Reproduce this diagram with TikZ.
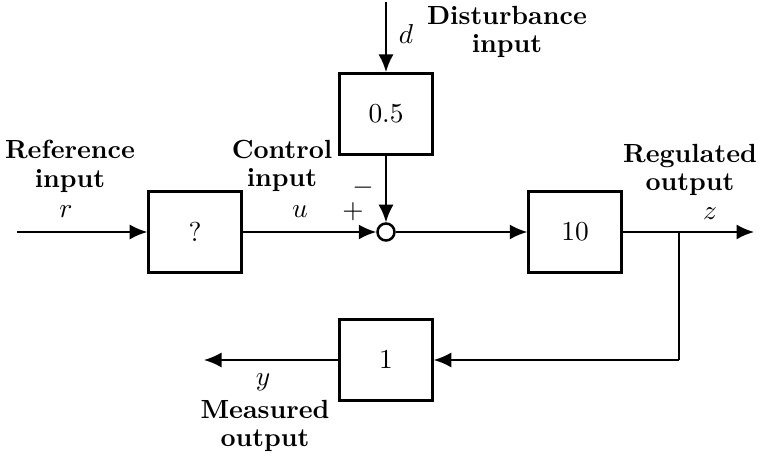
\documentclass[tikz,border=0pt]{standalone}
\usetikzlibrary{arrows.meta}
\begin{document}
\begin{tikzpicture}[x=0.4pt,y=-0.4pt,font=\fontsize{10.5}{11.5}\selectfont,
  blk/.style={draw,line width=1.2pt,minimum width=37pt,minimum height=32.4pt,inner sep=0pt},
  sumc/.style={draw,circle,line width=1pt,minimum size=6.8pt,inner sep=0pt},
  conn/.style={line width=0.75pt,-{Latex[length=7pt,width=6pt]}},
  plain/.style={line width=0.75pt},
  lbl/.style={font=\fontsize{10.5}{11.5}\selectfont\bfseries,align=center,inner sep=0pt}]
\useasboundingbox (0,0) rectangle (761,457);
% blocks
\node[blk] (ctrl) at (195,232) {$?$};
\node[blk] (dist) at (386,114) {$0.5$};
\node[sumc] (sum) at (386,232) {};
\node[blk] (plant) at (575,232) {$10$};
\node[blk] (meas) at (386,360) {$1$};
% free ends
\coordinate (rin) at (17,232);
\coordinate (din) at (386,2);
\coordinate (zout) at (754,232);
\coordinate (br) at (679,232);
\coordinate (brd) at (679,360);
\coordinate (yout) at (204,360);
% connectors
\draw[conn] (rin) -- (ctrl.west);
\draw[conn] (ctrl.east) -- (sum.west);
\draw[conn] (din) -- (dist.north);
\draw[conn] (dist.south) -- (sum.north);
\draw[conn] (sum.east) -- (plant.west);
\draw[conn] (plant.east) -- (zout);
\draw[plain] (br) -- (brd);
\draw[conn] (brd) -- (meas.east);
\draw[conn] (meas.west) -- (yout);
% math labels
\node (lr) at (66,212) {$r$};
\node (lu) at (300,212) {$u$};
\node (ld) at (406,34) {$d$};
\node (lz) at (710,214) {$z$};
\node (ly) at (263,382) {$y$};
\node (lminus) at (363,188) {$-$};
\node (lplus) at (353,212) {$+$};
% text labels
\node[lbl] (tref) at (70,166) {Reference\\input};
\node[lbl] (tctrl) at (282,166) {Control\\input};
\node[lbl] (tdist) at (507,32) {Disturbance\\input};
\node[lbl] (treg) at (690,170) {Regulated\\output};
\node[lbl] (tmeas) at (265,426) {Measured\\output};
\end{tikzpicture}
\end{document}
